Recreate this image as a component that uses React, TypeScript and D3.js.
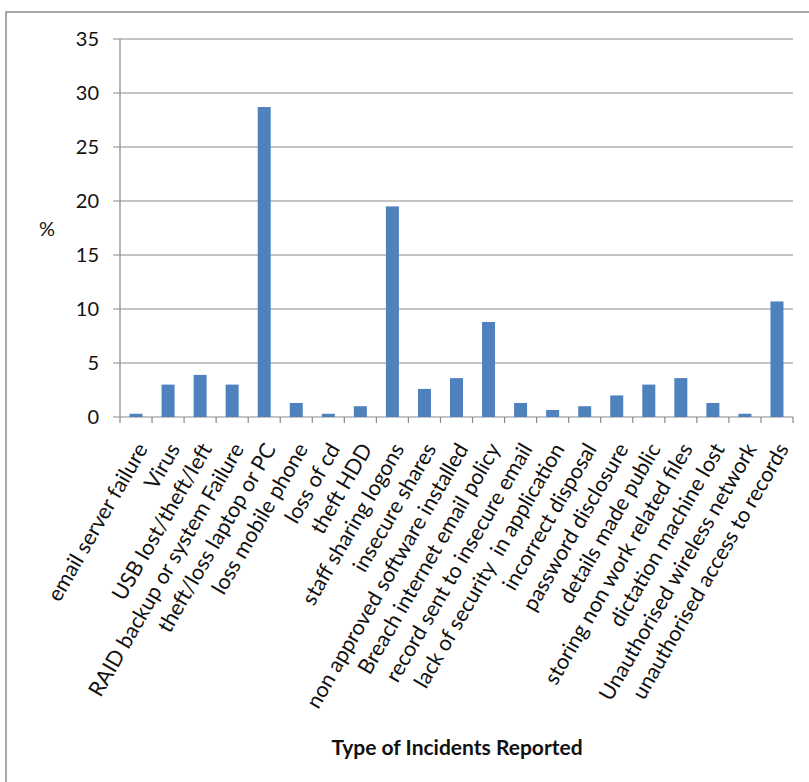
import React from "react";
import * as d3 from "d3";

const categories = [
  "email server failure",
  "Virus",
  "USB lost/theft/left",
  "RAID backup or system Failure",
  "theft/loss laptop or PC",
  "loss mobile phone",
  "loss of cd",
  "theft HDD",
  "staff sharing logons",
  "insecure shares",
  "non approved software installed",
  "Breach internet email policy",
  "record sent to insecure email",
  "lack of security  in application",
  "incorrect disposal",
  "password disclosure",
  "details made public",
  "storing non work related files",
  "dictation machine lost",
  "Unauthorised wireless network",
  "unauthorised access to records",
];

const values = [
  0.3, 3.0, 3.9, 3.0, 28.7, 1.3, 0.3, 1.0, 19.5, 2.6, 3.6, 8.8, 1.3, 0.65, 1.0,
  2.0, 3.0, 3.6, 1.3, 0.3, 10.7,
];

const yTicks = [0, 5, 10, 15, 20, 25, 30, 35];

const yAxisLabel = "%";
const xAxisTitle = "Type of Incidents Reported";

export default function App() {
  const W = 809;
  const H = 782;
  const left = 120;
  const right = 793;
  const top = 39;
  const bottom = 417;
  const font = "Lato, 'Open Sans', sans-serif";

  const x = d3.scaleBand<string>().domain(categories).range([left, right]).paddingInner(0).paddingOuter(0);
  const y = d3.scaleLinear().domain([0, 35]).range([bottom, top]);
  const barW = 13;

  return (
    <svg
      width={W}
      height={H}
      style={{ position: "absolute", left: 0, top: 0 }}
      fontFamily={font}
    >
      <rect x={0} y={0} width={W} height={H} fill="#fff" />
      {/* outer border */}
      <rect x={6} y={12} width={W + 20} height={H + 20} fill="none" stroke="#8c8c8c" strokeWidth={1.5} />

      {/* gridlines and y ticks */}
      {yTicks.map((t) => (
        <g key={t}>
          <line x1={left - 7} x2={right} y1={y(t)} y2={y(t)} stroke="#8a8a8a" strokeWidth={1.2} />
          <text x={99} y={y(t)} dy="0.35em" textAnchor="end" fontSize={20} fill="#111">
            {t}
          </text>
        </g>
      ))}
      {/* y axis line */}
      <line x1={left} x2={left} y1={top} y2={bottom + 6} stroke="#8a8a8a" strokeWidth={1.2} />
      {/* x ticks */}
      {categories.map((c, i) => (
        <line
          key={"t" + i}
          x1={(x(c) as number) + x.bandwidth()}
          x2={(x(c) as number) + x.bandwidth()}
          y1={bottom}
          y2={bottom + 6}
          stroke="#8a8a8a"
          strokeWidth={1.2}
        />
      ))}

      {/* bars */}
      {categories.map((c, i) => {
        const cx = (x(c) as number) + x.bandwidth() / 2;
        return (
          <rect
            key={"b" + i}
            x={cx - barW / 2}
            y={y(values[i])}
            width={barW}
            height={bottom - y(values[i])}
            fill="#4f81bd"
          />
        );
      })}

      {/* category labels */}
      {categories.map((c, i) => {
        const cx = (x(c) as number) + x.bandwidth() / 2;
        return (
          <text
            key={"l" + i}
            transform={`translate(${cx + 6},${bottom + 28}) rotate(-60)`}
            textAnchor="end"
            dy="0.35em"
            fontSize={21.5}
            fill="#111"
            style={{ whiteSpace: "pre" }}
          >
            {c}
          </text>
        );
      })}

      <text x={47} y={229} dy="0.35em" textAnchor="middle" fontSize={20} fill="#111">
        {yAxisLabel}
      </text>
      <text x={457} y={748} dy="0.35em" textAnchor="middle" fontSize={21} fontWeight="bold" fill="#111">
        {xAxisTitle}
      </text>
    </svg>
  );
}
